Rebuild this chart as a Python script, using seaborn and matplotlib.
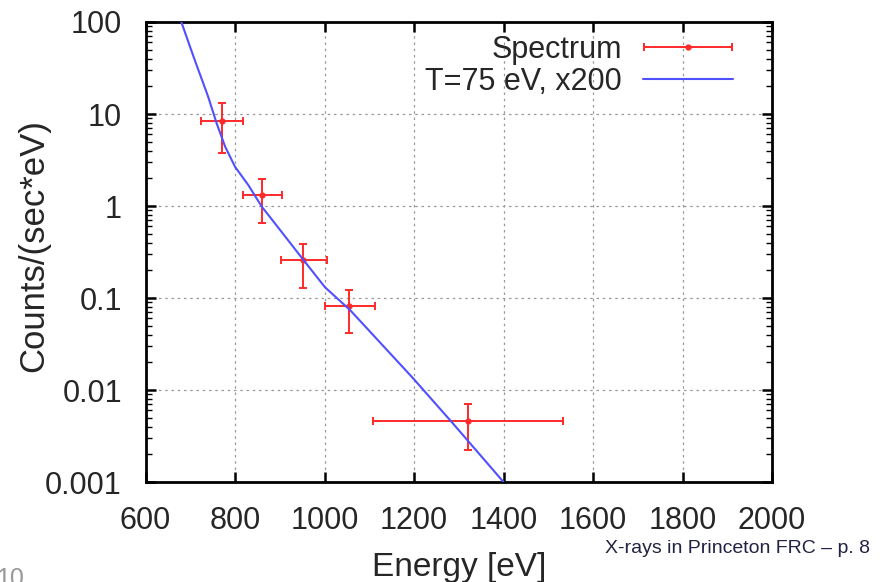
import numpy as np
import pandas as pd
import matplotlib
matplotlib.use('Agg')
import matplotlib.pyplot as plt
from matplotlib.container import ErrorbarContainer
from matplotlib.legend_handler import HandlerErrorbar
import seaborn as sns
import warnings
warnings.simplefilter('ignore')

# measured spectrum points (energy in eV, counts/(sec*eV))
energy = [770, 861, 953, 1055, 1321]
energy_lo = [724, 817, 903, 1001, 1109]
energy_hi = [818, 906, 1005, 1113, 1532]
counts = [8.3, 1.32, 0.256, 0.082, 0.0046]
counts_lo = [3.8, 0.65, 0.129, 0.0413, 0.00223]
counts_hi = [13.1, 1.95, 0.386, 0.122, 0.00698]

# model curve, T=75 eV scaled x200
model_e = [680, 710, 740, 759, 778, 800, 830, 860, 878, 953, 1001,
           1057, 1100, 1198, 1284, 1400]
model_c = [100, 38.6, 15.4, 7.9, 4.41, 2.67, 1.68, 0.98, 0.76, 0.259,
           0.131, 0.074, 0.044, 0.0134, 0.0045, 0.001]

x_ticks = [600, 800, 1000, 1200, 1400, 1600, 1800, 2000]
y_ticks = [0.001, 0.01, 0.1, 1, 10, 100]
y_tick_labels = ['0.001', '0.01', '0.1', '1', '10', '100']

sns.set_style('ticks')
plt.rcParams['font.family'] = ['Liberation Sans', 'DejaVu Sans']

fig = plt.figure(figsize=(8.83, 5.82), dpi=100)
ax = fig.add_axes([0.1648, 0.1718, 0.7095, 0.7904])

spec = pd.DataFrame({'Energy': energy, 'Counts': counts})
model = pd.DataFrame({'Energy': model_e, 'Counts': model_c})

xerr = [np.array(energy) - np.array(energy_lo), np.array(energy_hi) - np.array(energy)]
yerr = [np.array(counts) - np.array(counts_lo), np.array(counts_hi) - np.array(counts)]

red = '#ff2a2a'
blue = '#5050ff'
err_kw = dict(fmt='o', color=red, ms=3.5, lw=1.4, capsize=3, capthick=1.4)
ax.errorbar(spec['Energy'], spec['Counts'], xerr=xerr, yerr=yerr, zorder=3, **err_kw)
# horizontal-only errorbar for the legend key (gnuplot style)
spec_key = ax.errorbar([np.nan], [np.nan], xerr=[[1], [1]], **err_kw)
sns.lineplot(data=model, x='Energy', y='Counts', ax=ax, color=blue,
             lw=1.5, zorder=4, legend=False)
model_line = ax.get_lines()[-1]

ax.set_yscale('log')
ax.set_xlim(600, 2000)
ax.set_ylim(0.001, 100)
ax.set_xticks(x_ticks)
ax.set_xticklabels([str(t) for t in x_ticks])
ax.set_yticks(y_ticks)
ax.set_yticklabels(y_tick_labels)

ax.grid(True, which='major', color='#999999', linestyle=(0, (2, 3)), lw=0.9)
ax.tick_params(which='both', direction='in', top=True, right=True,
               labelsize=22, color='black')
ax.tick_params(axis='y', which='major', pad=17)
ax.tick_params(axis='x', which='major', pad=17)
ax.tick_params(which='major', length=7, width=1.8)
ax.tick_params(which='minor', length=4, width=1)
for s in ax.spines.values():
    s.set_linewidth(2)
    s.set_color('black')

ax.set_xlabel('Energy [eV]', fontsize=24, labelpad=12)
ax.set_ylabel('Counts/(sec*eV)', fontsize=25)
ax.yaxis.set_label_coords(-0.152, 0.515)

ax.legend([spec_key, model_line], ['Spectrum', 'T=75 eV, x200'],
          handler_map={ErrorbarContainer: HandlerErrorbar(xerr_size=1.45)},
          loc='upper right', bbox_to_anchor=(0.938, 0.9715), markerfirst=False,
          frameon=False, fontsize=22, handlelength=2.95, labelspacing=0.05,
          borderaxespad=0, borderpad=0, handletextpad=0.7)

fig.text(0.985, 0.0584, 'X-rays in Princeton FRC \u2013 p. 8', fontsize=14,
         color='#222244', ha='right', va='center')
fig.text(-0.004, 0.025, '10', fontsize=18, color='#999999', ha='left', va='top')

fig.savefig('out.png', dpi=100)
